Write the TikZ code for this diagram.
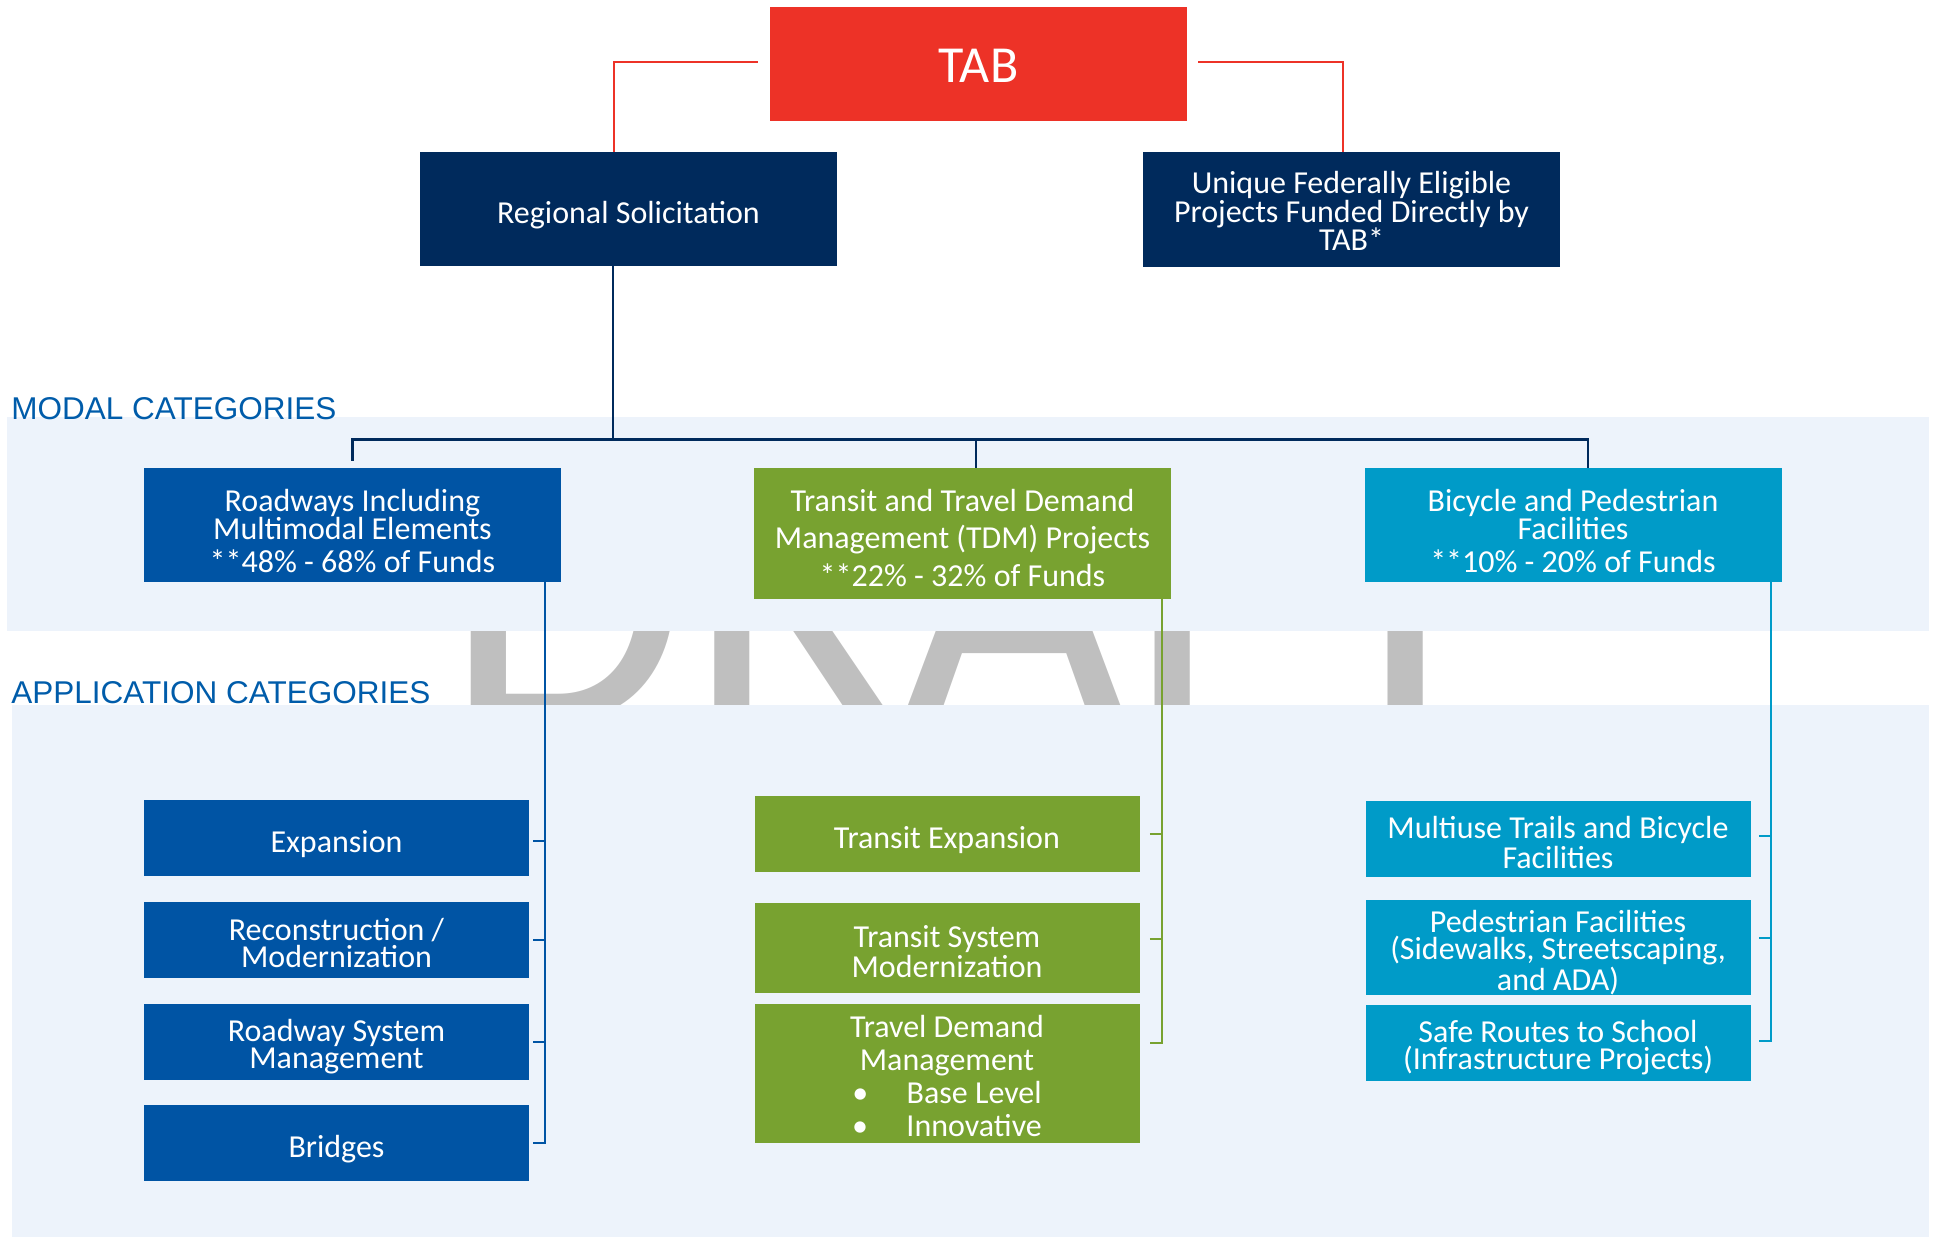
\documentclass[tikz,border=0pt]{standalone}
\usepackage{fontspec}
\setmainfont{Carlito}
\newfontfamily\capfont{Liberation Sans}
\definecolor{tabred}{RGB}{237,50,39}
\definecolor{navy}{RGB}{0,42,92}
\definecolor{roadblue}{RGB}{0,84,164}
\definecolor{transgreen}{RGB}{120,162,48}
\definecolor{bikecyan}{RGB}{0,155,200}
\definecolor{bandblue}{RGB}{237,243,251}
\definecolor{labelblue}{RGB}{0,92,170}
\definecolor{draftgrey}{RGB}{191,191,191}
\newcommand{\lift}[1]{\rule{0pt}{#1}}
\tikzset{box/.style={rectangle, minimum width=208.5pt, minimum height=57pt, inner sep=0pt, text centered, align=center, text=white},
topbox/.style={box,fill=tabred,font=\fontsize{26}{30}\selectfont},
headbox/.style={box,fill=navy,font=\fontsize{16}{14.25}\selectfont},
modalbox/.style={box,font=\fontsize{16}{14}\selectfont},
appbox/.style={box,minimum width=192.5pt,minimum height=38pt,font=\fontsize{16}{13.5}\selectfont},
catlabel/.style={anchor=base west,inner sep=0pt,text=labelblue,font=\capfont\fontsize{15.75}{18}\selectfont},
redline/.style={draw=tabred,line width=1.25pt},
navyline/.style={draw=navy,line width=1.25pt},
branch/.style={line width=1pt}}

\begin{document}
\begin{tikzpicture}[x=0.5pt,y=-0.5pt]
\useasboundingbox (0,0) rectangle (1933,1241);

%watermark and bands
\node (draft) at (444,722)[anchor=base west,inner sep=0pt,text=draftgrey,font=\fontsize{197}{200}\selectfont]{DRAFT};
\fill[bandblue] (7,417) rectangle (1929,631);
\fill[bandblue] (12,705) rectangle (1929,1237);
\node (modallab) at (11,419)[catlabel]{MODAL CATEGORIES};
\node (applab) at (11,703)[catlabel]{APPLICATION CATEGORIES};

%top
\node (tab) at (978.5,64)[topbox]{\lift{18.5pt}TAB};
\node (regional) at (628.5,209)[headbox]{\lift{17pt}Regional Solicitation};
\node (unique) at (1351.5,209.5)[headbox,minimum height=57.5pt]{\lift{13pt}Unique Federally Eligible\\Projects Funded Directly by\\TAB*};
\draw[redline] ([xshift=-6pt,yshift=1pt]tab.west) -| ([xshift=-7.25pt]regional.north);
\draw[redline] ([xshift=5.5pt,yshift=1pt]tab.east) -| ([xshift=-4.25pt]unique.north);

%modal categories
\node (road) at (352.5,525)[modalbox,fill=roadblue]{\lift{17pt}Roadways Including\\Multimodal Elements\\[2.5pt]**48\% - 68\% of Funds};
\node (transit) at (962.5,533.5)[modalbox,fill=transgreen,minimum height=65.5pt,font=\fontsize{16}{18.75}\selectfont]{\lift{15.5pt}Transit and Travel Demand\\Management (TDM) Projects\\**22\% - 32\% of Funds};
\node (bike) at (1573,525)[modalbox,fill=bikecyan]{\lift{17pt}Bicycle and Pedestrian\\Facilities\\[2.5pt]**10\% - 20\% of Funds};
\draw[navyline] ([xshift=-7.75pt]regional.south) -- ++(0,173) coordinate (hub);
\draw[navyline] (hub) -| ([yshift=3.5pt]road.north);
\draw[navyline] (hub) -| ([xshift=7.5pt]bike.north);
\draw[navyline] ([xshift=6.75pt]transit.north) -- ++(0,-29);

%roadway applications
\begin{scope}[every node/.style={appbox,fill=roadblue},roadblue]
\node (exp) at (336.5,838){\lift{17pt}Expansion};
\node (recon) at (336.5,940){\lift{14pt}Reconstruction /\\Modernization};
\node (rsm) at (336.5,1042){\lift{15.5pt}Roadway System\\Management};
\node (bridges) at (336.5,1143){\lift{17pt}Bridges};
\draw[branch] ([xshift=-8pt]road.south east) |- ([xshift=2pt]bridges.east);
\draw[branch] ([xshift=2pt,yshift=-1.5pt]exp.east) -- ++(12,0);
\draw[branch] ([xshift=2pt]recon.east) -- ++(12,0);
\draw[branch] ([xshift=2pt]rsm.east) -- ++(12,0);
\end{scope}

%transit applications
\begin{scope}[every node/.style={appbox,fill=transgreen},transgreen]
\node (texp) at (947,834){\lift{17pt}Transit Expansion};
\node (tsm) at (947,948)[minimum height=45pt]{\lift{14.5pt}Transit System\\Modernization};
\node (tdm) at (947,1073.5)[minimum height=69.5pt,font=\fontsize{16}{16.5}\selectfont]{\lift{14pt}Travel Demand\\Management\\\textbullet\hspace{1.2em}Base Level\\\textbullet\hspace{1.2em}Innovative};
\draw[branch] ([xshift=-4.5pt]transit.south east) |- ([xshift=5pt,yshift=15.25pt]tdm.east);
\draw[branch] ([xshift=5pt]texp.east) -- ++(13,0);
\draw[branch] ([xshift=5pt,yshift=4.5pt]tsm.east) -- ++(13,0);
\end{scope}

%bicycle applications
\begin{scope}[every node/.style={appbox,fill=bikecyan},bikecyan]
\node (multi) at (1558,839){\lift{14.5pt}Multiuse Trails and Bicycle\\Facilities};
\node (ped) at (1558,947.5)[minimum height=45.5pt]{\lift{16.5pt}Pedestrian Facilities\\(Sidewalks, Streetscaping,\\and ADA)};
\node (srts) at (1558,1043){\lift{15.5pt}Safe Routes to School\\(Infrastructure Projects)};
\draw[branch] ([xshift=-5.5pt]bike.south east) |- ([xshift=4pt,yshift=1pt]srts.east);
\draw[branch] ([xshift=4pt,yshift=1.5pt]multi.east) -- ++(12,0);
\draw[branch] ([xshift=4pt,yshift=4.75pt]ped.east) -- ++(12,0);
\end{scope}

\end{tikzpicture}
\end{document}
